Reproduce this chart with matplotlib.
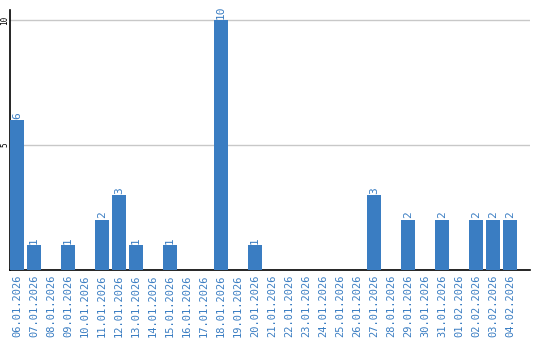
import matplotlib
matplotlib.use("Agg")
import matplotlib.pyplot as plt

dates = ["06.01.2026","07.01.2026","08.01.2026","09.01.2026","10.01.2026","11.01.2026",
         "12.01.2026","13.01.2026","14.01.2026","15.01.2026","16.01.2026","17.01.2026",
         "18.01.2026","19.01.2026","20.01.2026","21.01.2026","22.01.2026","23.01.2026",
         "24.01.2026","25.01.2026","26.01.2026","27.01.2026","28.01.2026","29.01.2026",
         "30.01.2026","31.01.2026","01.02.2026","02.02.2026","03.02.2026","04.02.2026"]
values = [6,1,0,1,0,2,3,1,0,1,0,0,10,0,1,0,0,0,0,0,0,3,0,2,0,2,0,2,2,2]
yticks = [5, 10]

blue = "#3a7dc2"
fig = plt.figure(figsize=(5.4, 3.4), dpi=100)
ax = fig.add_axes([10/540, 70/340, 520/540, 260/340])
x = list(range(len(dates)))
ax.bar(x, values, width=0.82, color=blue, zorder=3)
for xi, v in zip(x, values):
    if v > 0:
        ax.text(xi, v + 0.06, str(v), rotation=90, ha="center", va="bottom",
                color=blue, fontsize=8, family="DejaVu Sans Mono")
ax.set_xlim(-0.41, 30.18)
ax.set_ylim(0, 10.4)
ax.set_yticks(yticks)
ax.set_yticklabels([str(t) for t in yticks], rotation=90, va="center",
                   fontsize=5.5, family="DejaVu Sans Mono")
ax.set_xticks(x)
ax.set_xticklabels(dates, rotation=90, color=blue, fontsize=7.5, family="DejaVu Sans Mono")
ax.tick_params(axis="x", length=0, pad=3)
ax.tick_params(axis="y", length=0, pad=0.5)
ax.grid(axis="y", color="#c8c8c8", linewidth=1, zorder=0)
for s in ["top", "right"]:
    ax.spines[s].set_visible(False)
ax.spines["left"].set_color("black")
ax.spines["bottom"].set_color("black")
ax.spines["left"].set_linewidth(1.2)
ax.spines["bottom"].set_linewidth(1.2)
fig.savefig("out.png", dpi=100)
